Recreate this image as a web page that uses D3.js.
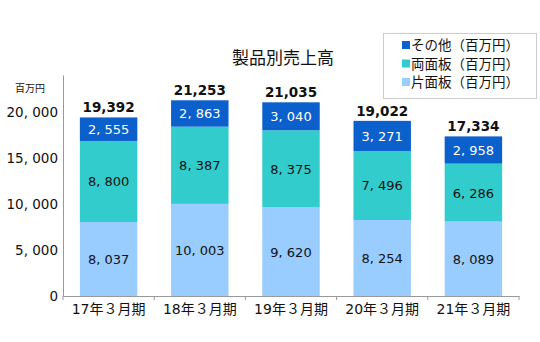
<!DOCTYPE html>
<html><head><meta charset="utf-8">
<script src="https://cdn.jsdelivr.net/npm/d3@7"></script>
<style>body{margin:0;background:#fff}svg{display:block}text{font-family:"DejaVu Sans","Noto Sans CJK JP",sans-serif}.cjk{font-family:"Noto Sans CJK JP","Noto Sans",sans-serif}</style>
</head><body><svg id="c" width="540" height="342"></svg>
<script>
const categories = ["17年３月期","18年３月期","19年３月期","20年３月期","21年３月期"];
const katamen = [8037,10003,9620,8254,8089];
const ryomen = [8800,8387,8375,7496,6286];
const sonota = [2555,2863,3040,3271,2958];
const totals = [19392,21253,21035,19022,17334];
const yTicks = [0,5000,10000,15000,20000];
const seriesNames = ["片面板（百万円）","両面板（百万円）","その他（百万円）"];
const colors = ["#99ccff","#33cccc","#0b60cc"];
const labelColors = ["#111","#111","#fff"];

const svg = d3.select("#c");
const m = {l:63, r:21, t:75, b:46};
const W = 540, H = 342;
const x = d3.scaleBand().domain(categories).range([m.l, W-m.r]).paddingInner(0.37).paddingOuter(0.185);
const y = d3.scaleLinear().domain([0,24000]).range([H-m.b, m.t]);

const data = categories.map((c,i)=>({cat:c, vals:[katamen[i], ryomen[i], sonota[i]], total: totals[i]}));
const keys = [0,1,2];
const stack = d3.stack().keys(keys).value((d,k)=>d.vals[k]);
const layers = stack(data);

const segFmt = v => d3.format(",")(v).replace(",", ", ");
const yFmt = v => v===0 ? "0" : d3.format(",")(v).replace(",", ", ");

// y axis
const ya = svg.append("g").attr("transform",`translate(${m.l},0)`)
  .call(d3.axisLeft(y).tickValues(yTicks).tickSize(0).tickPadding(5).tickFormat(yFmt));
ya.select(".domain").attr("stroke","#999");
ya.selectAll("text").attr("font-size",13.5).attr("fill","#111");

// x axis
const xa = svg.append("g").attr("transform",`translate(0,${H-m.b})`)
  .call(d3.axisBottom(x).tickSize(0).tickPadding(8));
xa.select(".domain").attr("stroke","#999");
xa.selectAll("text").attr("font-size",14).attr("fill","#111");
const bounds = [m.l].concat(categories.map(c=>x(c)+x.bandwidth()+x.step()*x.paddingInner()/2));
bounds[bounds.length-1] = W-m.r;
xa.selectAll(".sep").data(bounds).enter().append("line")
  .attr("x1",d=>d).attr("x2",d=>d).attr("y1",0).attr("y2",4).attr("stroke","#999");

// bars
layers.forEach((layer,li)=>{
  const g = svg.append("g");
  g.selectAll("rect").data(layer).enter().append("rect")
    .attr("x",d=>x(d.data.cat)).attr("width",x.bandwidth())
    .attr("y",d=>y(d[1])).attr("height",d=>y(d[0])-y(d[1]))
    .attr("fill",colors[li]);
  g.selectAll("text").data(layer).enter().append("text")
    .attr("x",d=>x(d.data.cat)+x.bandwidth()/2)
    .attr("y",d=>(y(d[0])+y(d[1]))/2+5)
    .attr("text-anchor","middle").attr("font-size",13).attr("fill",labelColors[li])
    .text(d=>segFmt(d.data.vals[li]));
});

// totals
svg.append("g").selectAll("text").data(data).enter().append("text")
  .attr("x",d=>x(d.cat)+x.bandwidth()/2)
  .attr("y",(d,i)=>y(d3.sum(d.vals))-5)
  .attr("text-anchor","middle").attr("font-size",13.5).attr("font-weight","bold").attr("fill","#111")
  .text(d=>d3.format(",")(d.total));

// unit label
svg.append("text").attr("class","cjk").attr("x",15).attr("y",92).attr("font-size",10).attr("fill","#111").text("百万円");

// title
svg.append("text").attr("class","cjk").attr("x",283).attr("y",64).attr("text-anchor","middle").attr("font-size",17).attr("fill","#111").text("製品別売上高");

// legend
const lg = svg.append("g");
lg.append("rect").attr("x",383.5).attr("y",33.5).attr("width",153).attr("height",65).attr("fill","#fff").attr("stroke","#ccc");
const order = [2,1,0];
order.forEach((si,r)=>{
  const yy = 45 + r*18.5;
  lg.append("rect").attr("x",402).attr("y",yy-4).attr("width",8).attr("height",8).attr("fill",colors[si]);
  lg.append("text").attr("class","cjk").attr("x",411).attr("y",yy+5).attr("font-size",13.5).attr("fill","#111").text(seriesNames[si]);
});
</script></body></html>
